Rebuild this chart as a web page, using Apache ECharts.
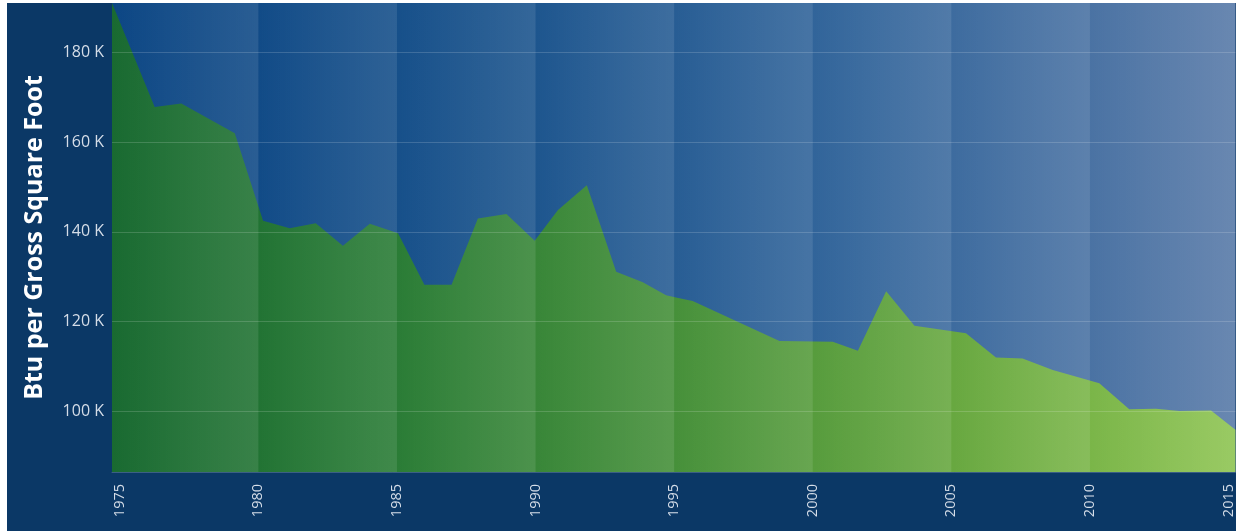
<!DOCTYPE html>
<html>
<head>
<meta charset="utf-8">
<title>Btu per Gross Square Foot</title>
<script src="https://cdn.jsdelivr.net/npm/echarts@6/dist/echarts.min.js"></script>
<style>
  html, body {
    margin: 0;
    padding: 0;
    background: #ffffff;
    overflow: hidden;
  }
  #chart {
    position: absolute;
    left: 7px;
    top: 3px;
    width: 1229px;
    height: 528px;
  }
</style>
</head>
<body>
<div id="chart"></div>
<script>
// years of each vertex (read off the picture, not whole years everywhere)
const years = [1974.72, 1976.26, 1977.22, 1979.15, 1980.17, 1981.13, 1982.07, 1983.05,
  1984.02, 1985.04, 1985.99, 1986.97, 1987.92, 1988.95, 1989.97, 1990.81, 1991.85,
  1992.91, 1993.87, 1994.71, 1995.19, 1995.67, 1998.80, 2000.72, 2001.63, 2002.65,
  2003.67, 2005.53, 2006.61, 2007.57, 2008.66, 2010.34, 2011.42, 2012.38, 2013.23,
  2014.37, 2015.25]
// Btu per gross square foot, in thousands
const btu = [191, 167.8, 168.6, 162.0, 142.5, 140.8, 141.9, 136.9,
  141.8, 139.7, 128.2, 128.2, 143.0, 144.0, 138.0, 144.9, 150.4,
  131.1, 128.8, 125.9, 125.2, 124.6, 115.7, 115.5, 113.5, 126.8,
  119.1, 117.4, 112.0, 111.8, 109.2, 106.3, 100.5, 100.6, 100.1,
  100.2, 95.9]
// tick labels
const yearTicks = [1975, 1980, 1985, 1990, 1995, 2000, 2005, 2010, 2015]
const btuTicks = [100, 120, 140, 160, 180]
// 5-year band edges for the lighter stripes
const bandEdges = [1974.72, 1980, 1985, 1990, 1995, 2000, 2005, 2010, 2015.25]

const xMin = 1974.72, xMax = 2015.25
const yMin = 86.5, yMax = 191

const font = '"Open Sans", "DejaVu Sans", sans-serif'

function hGrad(stops) {
  return new echarts.graphic.LinearGradient(0, 0, 1, 0, stops.map((c, i) => ({
    offset: i / (stops.length - 1), color: c
  })))
}

// one markArea per band, each fading lighter toward its right edge
const bands = []
for (let i = 0; i < bandEdges.length - 1; i++) {
  bands.push([
    { xAxis: bandEdges[i], yAxis: yMin,
      itemStyle: { color: hGrad(['rgba(255,255,255,0)', 'rgba(255,255,255,0.1)']) } },
    { xAxis: bandEdges[i + 1], yAxis: yMax }
  ])
}

const points = years.map((y, i) => [y, btu[i]])

const chart = echarts.init(document.getElementById('chart'))
chart.setOption({
  backgroundColor: '#0b3866',
  animation: false,
  grid: { left: 105, right: 0, top: 0, bottom: 59 },
  xAxis: {
    type: 'value',
    min: xMin,
    max: xMax,
    axisLine: { show: true, lineStyle: { color: 'rgba(255,255,255,0.2)', width: 1 } },
    axisTick: { show: false },
    splitLine: { show: false },
    axisLabel: {
      customValues: yearTicks,
      rotate: 90,
      margin: 12,
      color: '#d5dde8',
      fontSize: 14.5,
      fontFamily: font,
      formatter: v => String(v)
    }
  },
  yAxis: {
    type: 'value',
    min: yMin,
    max: yMax,
    name: 'Btu per Gross Square Foot',
    nameLocation: 'middle',
    nameGap: 65,
    nameTextStyle: { color: '#ffffff', fontSize: 25, fontWeight: 'bold', fontFamily: font },
    axisLine: { show: false },
    axisTick: { show: false },
    splitLine: { show: false },
    axisLabel: {
      customValues: btuTicks,
      margin: 8,
      color: '#d5dde8',
      fontSize: 16,
      fontFamily: font,
      formatter: v => v + ' K'
    }
  },
  series: [
    // blue background of the plot
    {
      type: 'line',
      data: [],
      z: 1,
      silent: true,
      markArea: {
        silent: true,
        z: 0,
        data: [[
          { xAxis: xMin, yAxis: yMin,
            itemStyle: { color: hGrad(['#0c4684', '#1a538c', '#35679c', '#587aa8']) } },
          { xAxis: xMax, yAxis: yMax }
        ]]
      }
    },
    // green area
    {
      type: 'line',
      data: points,
      z: 2,
      silent: true,
      showSymbol: false,
      lineStyle: { width: 0 },
      areaStyle: {
        origin: 'start',
        opacity: 1,
        color: hGrad(['#196a31', '#2a7c36', '#46903a', '#68a840', '#8ec452'])
      }
    },
    // lighter 5-year stripes and grid lines on top
    {
      type: 'line',
      data: [],
      z: 3,
      silent: true,
      markArea: { silent: true, z: 5, data: bands },
      markLine: {
        silent: true,
        z: 6,
        symbol: 'none',
        label: { show: false },
        lineStyle: { color: 'rgba(255,255,255,0.16)', width: 1, type: 'solid' },
        data: btuTicks.map(v => ({ yAxis: v }))
      }
    }
  ]
})
</script>
</body>
</html>
